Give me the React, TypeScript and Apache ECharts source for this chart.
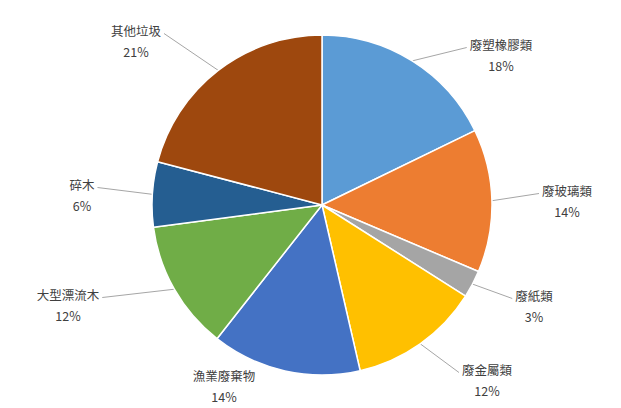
import React, { useEffect, useRef } from "react";
import * as echarts from "echarts";

const CATEGORIES = ["廢塑橡膠類", "廢玻璃類", "廢紙類", "廢金屬類", "漁業廢棄物", "大型漂流木", "碎木", "其他垃圾"];
const VALUES = [17.8, 13.6, 2.6, 12.4, 14.2, 12.3, 6.2, 20.9];
const COLORS = ["#5B9BD5", "#ED7D31", "#A5A5A5", "#FFC000", "#4472C4", "#70AD47", "#255E91", "#9E480E"];

// label block centers (layout only) and whether a leader line is drawn
const LABEL_POS: { x: number; y: number; side: "left" | "right"; line: boolean }[] = [
  { x: 501, y: 55, side: "right", line: true },
  { x: 567, y: 201, side: "right", line: true },
  { x: 534, y: 306, side: "right", line: true },
  { x: 487, y: 380, side: "right", line: true },
  { x: 224, y: 386, side: "left", line: false },
  { x: 68, y: 305, side: "left", line: true },
  { x: 82, y: 195, side: "left", line: true },
  { x: 136, y: 41, side: "left", line: true },
];

export default function App() {
  const ref = useRef<HTMLDivElement>(null);
  useEffect(() => {
    if (!ref.current) return;
    const chart = echarts.init(ref.current, null, { renderer: "svg" });
    const font = '"Noto Sans CJK TC", "Noto Sans", sans-serif';
    chart.setOption({
      animation: false,
      backgroundColor: "#ffffff",
      color: COLORS,
      series: [
        {
          type: "pie",
          center: [322, 205],
          radius: 170,
          startAngle: 90,
          clockwise: true,
          avoidLabelOverlap: false,
          itemStyle: { borderColor: "#ffffff", borderWidth: 1.5 },
          emphasis: { disabled: true },
          label: {
            show: true,
            position: "outside",
            color: "#404040",
            fontSize: 12.5,
            fontFamily: font,
            lineHeight: 21,
            align: "center",
            formatter: (p: any) => `${p.name}\n${Math.round(p.percent)}%`,
          },
          labelLine: {
            show: true,
            length: 10,
            length2: 10,
            lineStyle: { color: "#A6A6A6", width: 1 },
          },
          labelLayout: (params: any) => {
            const pos = LABEL_POS[params.dataIndex];
            const w = params.labelRect ? params.labelRect.width : 60;
            const start = params.labelLinePoints ? params.labelLinePoints[0] : [pos.x, pos.y];
            const endX = pos.side === "right" ? pos.x - w / 2 - 3 : pos.x + w / 2 + 3;
            const endY = pos.y - 10.5 + 3;
            const out: any = {
              x: pos.x,
              y: pos.y,
              align: "center",
              verticalAlign: "middle",
            };
            out.labelLinePoints = pos.line
              ? [start, [endX, endY]]
              : [start, start];
            return out;
          },
          data: CATEGORIES.map((name, i) => ({ name, value: VALUES[i] })),
        },
      ],
    });
    return () => chart.dispose();
  }, []);
  return (
    <div
      ref={ref}
      style={{ position: "fixed", left: 0, top: 0, width: 621, height: 408 }}
    />
  );
}
